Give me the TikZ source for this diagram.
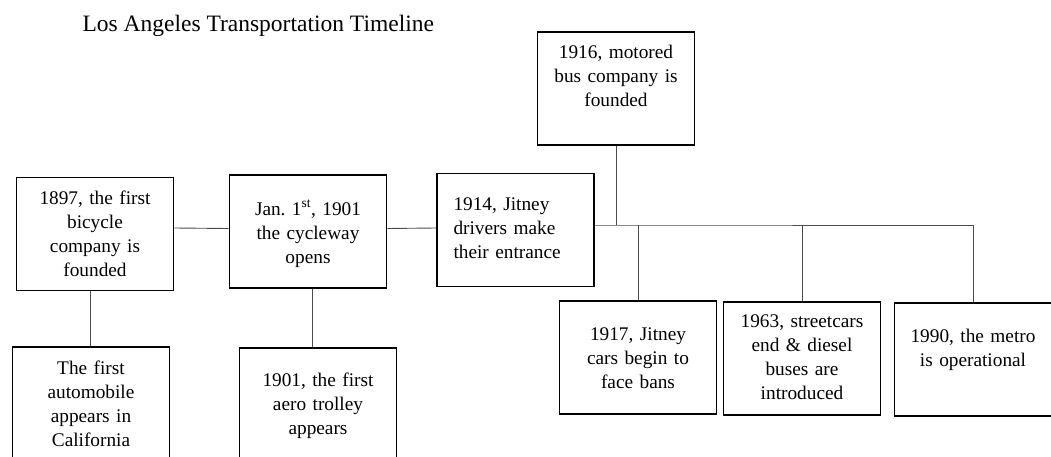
\documentclass[tikz,border=0pt]{standalone}
\usepackage{fontspec}
\setmainfont{Liberation Serif}
\frenchspacing
\newcommand{\evfont}{\fontsize{19.3}{24}\selectfont}
\newcommand{\headfont}{\fontsize{23.5}{28}\selectfont}

\begin{document}
\begin{tikzpicture}[x=1pt,y=-1pt,
  event/.style={draw,line width=1.6pt,minimum width=157pt,inner sep=0pt,
    text width=150pt,align=center,font=\evfont,
    text height=#1,text depth=113pt-#1},
  event/.default=38pt,
  link/.style={draw=black!70,line width=0.9pt}]

\useasboundingbox (0,0) rectangle (1051,457);
\clip (0,0) rectangle (1051,457);

\node[anchor=base west,font=\headfont] (title) at (79,32) {Los Angeles Transportation Timeline};

% main line
\node[event=27pt] (e_1897) at (95,234) {1897, the first\\bicycle\\company is\\founded};
\node[event=40pt] (e_1901) at (308,231.5) {Jan. 1\textsuperscript{st}, 1901\\the cycleway\\opens};
\node[event=37pt,align=left,text width=124pt] (e_1914) at (515.5,230) {1914, Jitney\\drivers make\\their entrance};
\node[event=27pt] (e_1916) at (616,88.5) {1916, motored\\bus company is\\founded};

% side events
\node[event=27pt] (e_car) at (91,403.5) {The first\\automobile\\appears in\\California};
\node[event=38pt] (e_aero) at (318,404.5) {1901, the first\\aero trolley\\appears};
\node[event=39pt] (e_1917) at (638,357.5) {1917, Jitney\\cars begin to\\face bans};
\node[event=25pt] (e_1963) at (802,358.5) {1963, streetcars\\end \& diesel\\buses are\\introduced};
\node[event=39pt] (e_1990) at (973,359.5) {1990, the metro\\is operational};

\draw[link] ([yshift=6pt]e_1897.east) -- ([yshift=3pt]e_1901.west);
\draw[link] ([yshift=3pt]e_1901.east) -- ([yshift=2pt]e_1914.west);
\draw[link] ([xshift=-5pt]e_1897.south) -- ([xshift=-1pt]e_car.north);
\draw[link] ([xshift=4pt]e_1901.south) -- ([xshift=-6pt]e_aero.north);

\coordinate (hub) at (616,225);
\draw[link] (e_1916.south) -- (hub);
\draw[link] ([yshift=5pt]e_1914.east) -- (hub) -- (e_1990.north |- hub);
\foreach \n in {e_1917,e_1963,e_1990}
  \draw[link] (\n.north) -- (\n.north |- hub);

\end{tikzpicture}
\end{document}
